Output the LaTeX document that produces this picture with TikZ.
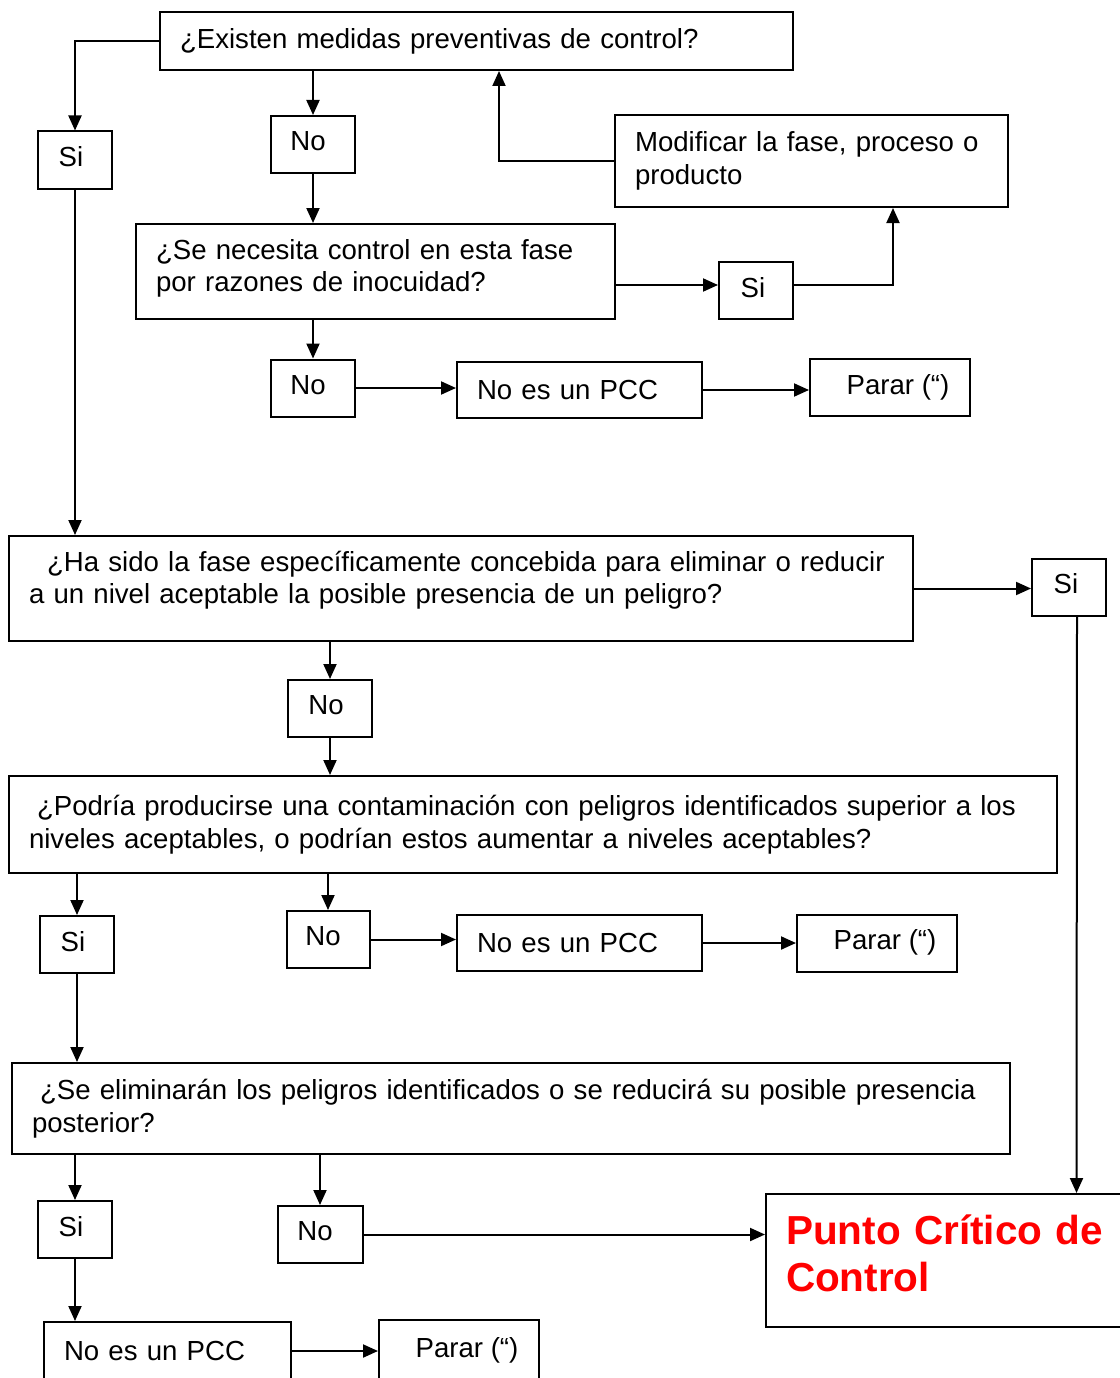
\documentclass[tikz,border=0pt]{standalone}
\usepackage{fontspec}
\setmainfont{Liberation Sans}
\usetikzlibrary{arrows.meta}
\begin{document}
\begin{tikzpicture}[x=1pt,y=-1pt,font=\fontsize{27.6}{32.5}\selectfont,
    box/.style={draw,line width=2pt,rectangle,inner sep=0pt},
    qbox/.style n args={2}{box,align=left,inner xsep=20pt,text width=#1,minimum height=#2},
    ans/.style={box,minimum width=#1,minimum height=57pt,text depth=6.5pt},
    arr/.style={line width=2pt,-{Triangle[length=15pt,width=13pt]}}]
      \useasboundingbox (0,0) rectangle (1119,1378);
      \node[qbox={593pt}{58pt}] (q1) at (476.5,41) {¿Existen medidas preventivas de control?};
      \node[ans=74pt] (si1) at (75,160) {\hspace*{-8pt}Si};
      \node[ans=84pt] (no1) at (313,144.5) {\hspace*{-10pt}No};
      \node[qbox={353pt}{92pt}] (mod) at (811.5,161) {\mbox{Modificar la fase, proceso o}\\producto};
      \node[qbox={439pt}{95pt}] (q2) at (375.5,271.5) {\mbox{¿Se necesita control en esta fase}\\\mbox{por razones de inocuidad?}\rule[-12pt]{0pt}{0pt}};
      \node[ans=74pt] (si2) at (756,290.5) {\hspace*{-6pt}Si};
      \node[ans=84pt] (no2) at (313,388) {\hspace*{-10pt}No};
      \node[qbox={205pt}{56pt}] (pcc1) at (579.5,390) {No es un PCC};
      \node[ans=160pt] (stop1) at (890,387.5) {\hspace*{16pt}Parar (“)};
      \node[qbox={864pt}{105pt}] (q3) at (461,588.5) {\mbox{\hspace*{18pt}¿Ha sido la fase específicamente concebida para eliminar o reducir}\\\mbox{a un nivel aceptable la posible presencia de un peligro?}\rule[-22pt]{0pt}{0pt}};
      \node[ans=74pt] (si3) at (1069,587) {\hspace*{-6pt}Si};
      \node[ans=84pt] (no3) at (330,708.5) {\hspace*{-8pt}No};
      \node[qbox={1008pt}{97pt}] (q4) at (533,824.5) {\mbox{\hspace*{8pt}¿Podría producirse una contaminación con peligros identificados superior a los}\\\mbox{niveles aceptables, o podrían estos aumentar a niveles aceptables?}};
      \node[ans=74pt] (si4) at (77,944.5) {\hspace*{-8pt}Si};
      \node[ans=83pt] (no4) at (328,939.5) {\hspace*{-10pt}No};
      \node[qbox={205pt}{56pt}] (pcc2) at (579.5,943) {No es un PCC};
      \node[ans=160pt] (stop2) at (877,943) {\hspace*{16pt}Parar (“)};
      \node[qbox={958pt}{91pt}] (q5) at (511,1108.5) {\mbox{\hspace*{8pt}¿Se eliminarán los peligros identificados o se reducirá su posible presencia}\\\mbox{posterior?}};
      \node[ans=74pt] (si5) at (75,1229.5) {\hspace*{-8pt}Si};
      \node[ans=85pt] (no5) at (320,1234.5) {\hspace*{-10pt}No};
      \node[qbox={360pt}{133pt},text=red,font=\fontsize{40.5}{47}\selectfont\bfseries] (pcc) at (966,1260.5) {\mbox{Punto Crítico de}\\Control\rule[-15pt]{0pt}{0pt}};
      \node[qbox={207pt}{58pt}] (pcc3) at (167.5,1351) {No es un PCC};
      \node[box,minimum width=160pt,minimum height=60pt] (stop3) at (459,1350) {\hspace*{16pt}Parar (“)};
      \draw[arr] (q1.west) -| (si1.north);
      \draw[arr] (q1.south -| no1.north) -- (no1.north);
      \draw[arr] (no1.south) -- (no1.south |- q2.north);
      \draw[arr] (mod.west) -| ([xshift=22.5pt]q1.south);
      \draw[arr] ([yshift=-13.5pt]q2.east) -- ([yshift=5.5pt]si2.west);
      \draw[arr] ([yshift=5.5pt]si2.east) -| ([xshift=81.5pt]mod.south);
      \draw[arr] (q2.south -| no2.north) -- (no2.north);
      \draw[arr] (no2.east) -- (no2.east -| pcc1.west);
      \draw[arr] (pcc1.east) -- (pcc1.east -| stop1.west);
      \draw[arr] (si1.south) -- (si1.south |- q3.north);
      \draw[arr] (q3.east) -- (q3.east -| si3.west);
      \draw[arr] ([xshift=8pt]si3.south) -- ([xshift=110.5pt]pcc.north);
      \draw[arr] (q3.south -| no3.north) -- (no3.north);
      \draw[arr] (no3.south) -- (no3.south |- q4.north);
      \draw[arr] (q4.south -| si4.north) -- (si4.north);
      \draw[arr] (q4.south -| no4.north) -- (no4.north);
      \draw[arr] (no4.east) -- (no4.east -| pcc2.west);
      \draw[arr] (pcc2.east) -- (pcc2.east -| stop2.west);
      \draw[arr] (si4.south) -- (si4.south |- q5.north);
      \draw[arr] (q5.south -| si5.north) -- (si5.north);
      \draw[arr] (q5.south -| no5.north) -- (no5.north);
      \draw[arr] (no5.east) -- (no5.east -| pcc.west);
      \draw[arr] (si5.south) -- (si5.south |- pcc3.north);
      \draw[arr] (pcc3.east) -- (pcc3.east -| stop3.west);
    \end{tikzpicture}
\end{document}
